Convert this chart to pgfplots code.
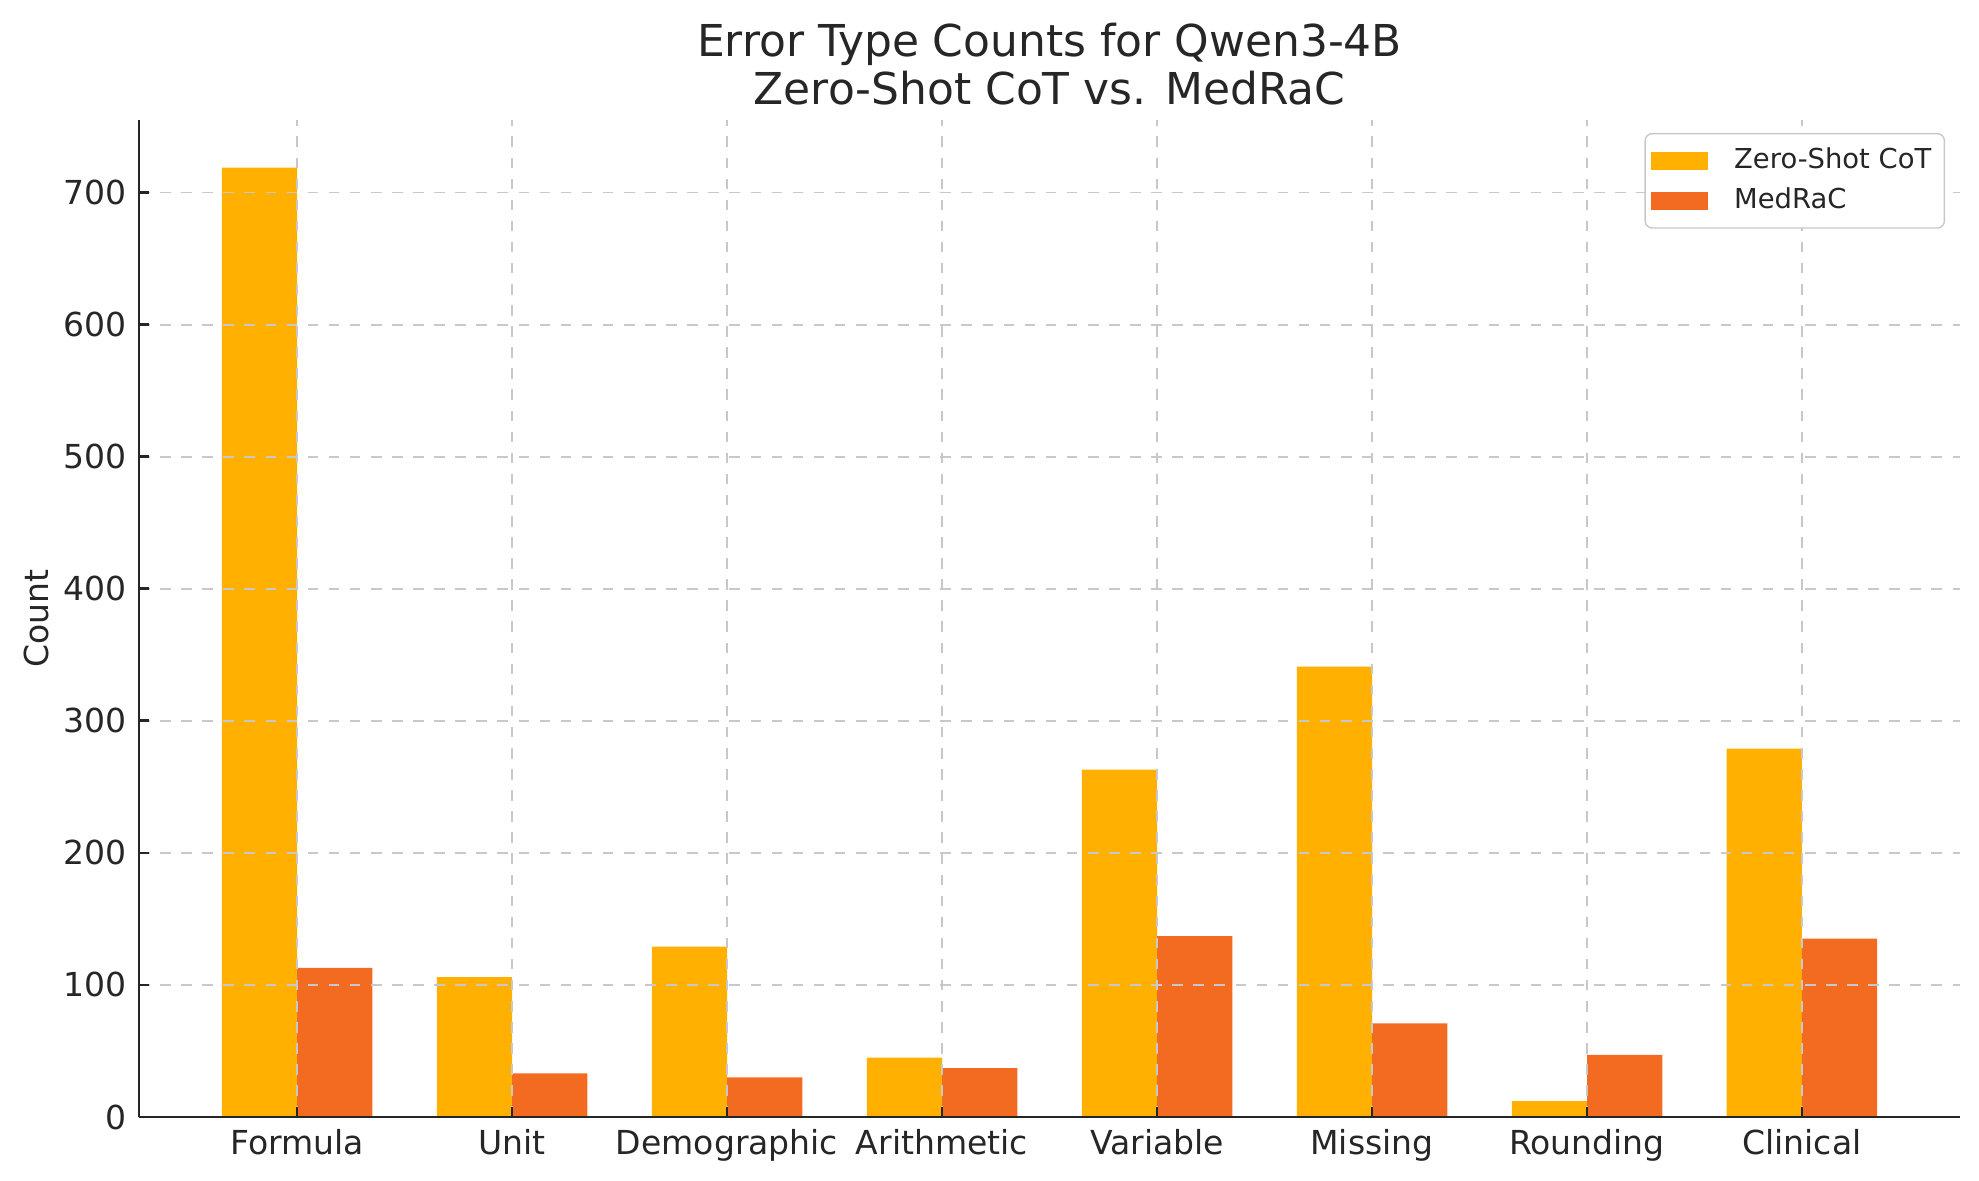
\documentclass[border=0pt]{standalone}
\usepackage{fontspec}
\setmainfont{DejaVu Sans}
\usepackage{pgfplots}
\pgfplotsset{compat=1.18}
\definecolor{zs}{HTML}{FFB000}
\definecolor{mr}{HTML}{F26B21}
\definecolor{txt}{HTML}{262626}
\definecolor{gridc}{HTML}{C8C8C8}
\begin{document}
\begin{tikzpicture}
\begin{axis}[
  scale only axis,
  width=182.1mm, height=99.7mm,
  xmin=-0.735, xmax=7.735,
  ymin=0, ymax=755,
  axis lines*=left,
  axis line style={line width=0.8pt, color=txt},
  axis on top,
  xtick={0,...,7},
  xticklabels={Formula,Unit,Demographic,Arithmetic,Variable,Missing,Rounding,Clinical},
  ytick={0,100,...,700},
  tick align=inside,
  major tick length=1mm,
  tick style={line width=0.8pt, color=txt},
  xmajorgrids, ymajorgrids,
  grid style={dashed, gridc, line width=0.5pt},
  ticklabel style={font=\fontsize{9.4}{11}\selectfont, text=txt},
  /pgf/number format/assume math mode=true,
  ylabel={Count},
  ylabel style={font=\fontsize{9.4}{11}\selectfont, text=txt, yshift=-1mm},
  title={Error Type Counts for Qwen3-4B\\Zero-Shot CoT vs. MedRaC},
  title style={font=\fontsize{12.5}{13.8}\selectfont, text=txt, align=center, yshift=-1.9mm},
  legend style={at={(0.9918,0.987)}, anchor=north east, draw=gridc, rounded corners=2pt,
    font=\fontsize{7.8}{9}\selectfont, text=txt, row sep=0pt, inner xsep=0.6mm, inner ysep=0.7mm},
  legend cell align=left,
  legend image code/.code={\fill[#1, sharp corners] (-4mm,-0.9mm) rectangle (1.7mm,0.9mm); \path (3.6mm,0);},
]
\addplot[ybar, bar width=0.35, bar shift=-0.175, fill=zs, draw=none] coordinates {
 (0,719) (1,106) (2,129) (3,45) (4,263) (5,341) (6,12) (7,279)};
\addlegendentry{Zero-Shot CoT}
\addplot[ybar, bar width=0.35, bar shift=0.175, fill=mr, draw=none] coordinates {
 (0,113) (1,33) (2,30) (3,37) (4,137) (5,71) (6,47) (7,135)};
\addlegendentry{MedRaC}
\end{axis}
\pgfresetboundingbox
\path[use as bounding box] ([shift={(-13.9mm,-6.3mm)}]current axis.south west) rectangle ([shift={(1.9mm,12mm)}]current axis.north east);
\end{tikzpicture}
\end{document}
